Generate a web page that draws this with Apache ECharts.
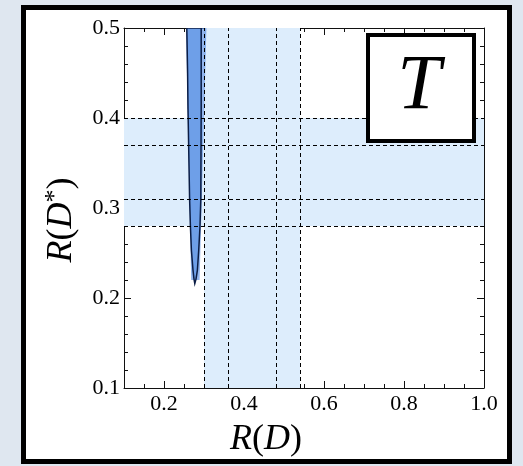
<!DOCTYPE html>
<html>
<head>
<meta charset="utf-8">
<script src="https://cdn.jsdelivr.net/npm/echarts@6/dist/echarts.min.js"></script>
<style>
html,body{margin:0;padding:0;width:523px;height:466px;overflow:hidden;background:#dfe7f0;}
#frame{position:absolute;left:21px;top:5px;width:491px;height:459px;box-sizing:border-box;border:5px solid #000;background:#fff;}
#chart{position:absolute;left:0;top:0;width:523px;height:466px;}
</style>
</head>
<body>
<div id="frame"></div>
<div id="chart"></div>
<script>
// Axis ranges and ticks
const xRange = [0.1, 1.0];
const yRange = [0.1, 0.5];
const xMajorTicks = [0.2, 0.4, 0.6, 0.8, 1.0];
const yMajorTicks = [0.1, 0.2, 0.3, 0.4, 0.5];

// Experimental bands: R(D) and R(D*)
const bandRD = [0.30, 0.54];
const bandRDs = [0.28, 0.40];
const linesRD = [0.30, 0.36, 0.48, 0.54];
const linesRDs = [0.28, 0.31, 0.37, 0.40];

// Allowed region (T operator)
const outerRegion = [[0.255, 0.5], [0.306, 0.5], [0.289, 0.22], [0.268, 0.22]];
const innerLeft = [[0.257, 0.5], [0.259, 0.45], [0.260, 0.41], [0.262, 0.36], [0.264, 0.31], [0.266, 0.28], [0.2685, 0.253], [0.2725, 0.231], [0.275, 0.221], [0.277, 0.216]];
const innerRight = [[0.293, 0.5], [0.293, 0.45], [0.293, 0.41], [0.2925, 0.36], [0.292, 0.31], [0.290, 0.28], [0.2868, 0.253], [0.2835, 0.231], [0.280, 0.221], [0.277, 0.216]];

const innerRegion = innerLeft.concat(innerRight.slice().reverse());

const chart = echarts.init(document.getElementById('chart'), null, {renderer: 'canvas'});

const serif = "'Liberation Serif', 'Times New Roman', serif";
const axisColor = '#111';

function baseX(pos, showLabel) {
  return {
    type: 'value', position: pos, min: xRange[0], max: xRange[1],
    axisLine: {show: true, onZero: false, lineStyle: {color: axisColor, width: 1}},
    axisTick: {show: true, inside: true, length: 7, customValues: xMajorTicks, lineStyle: {color: axisColor}},
    axisLabel: {show: showLabel, customValues: xMajorTicks, formatter: v => v.toFixed(1), fontFamily: serif, fontSize: 22, color: '#000', margin: 5},
    splitLine: {show: false}
  };
}
function minorX(pos) {
  return {
    type: 'value', position: pos, min: 0.1, max: 1.0, interval: 0.05,
    axisLine: {show: false, onZero: false},
    axisTick: {show: true, inside: true, length: 4, lineStyle: {color: axisColor}},
    axisLabel: {show: false}, splitLine: {show: false}
  };
}
function baseY(pos, showLabel) {
  return {
    type: 'value', position: pos, min: yRange[0], max: yRange[1], interval: 0.1,
    axisLine: {show: true, onZero: false, lineStyle: {color: axisColor, width: 1}},
    axisTick: {show: true, inside: true, length: 7, lineStyle: {color: axisColor}},
    minorTick: {show: true, splitNumber: 5, length: 4, lineStyle: {color: axisColor}},
    axisLabel: {show: showLabel, formatter: v => v.toFixed(1), fontFamily: serif, fontSize: 22, color: '#000', margin: 4},
    splitLine: {show: false}, minorSplitLine: {show: false}
  };
}

function polyRender(points, fill, stroke, lw) {
  return function (params, api) {
    if (params.dataIndex !== 0) return;
    const pts = points.map(p => api.coord(p));
    return {
      type: 'polygon',
      shape: {points: pts},
      style: {fill: fill, stroke: stroke, lineWidth: lw}
    };
  };
}

const bandColor = '#ddedfc';

const option = {
  animation: false,
  grid: {left: 124, top: 28, right: 39, bottom: 78, containLabel: false},
  xAxis: [baseX('bottom', true), minorX('bottom'), baseX('top', false), minorX('top')],
  yAxis: [baseY('left', true), baseY('right', false)],
  series: [
    {
      type: 'line', data: [], xAxisIndex: 0, yAxisIndex: 0, silent: true, z: 1,
      markArea: {
        silent: true,
        itemStyle: {color: bandColor},
        data: [
          [{xAxis: bandRD[0], yAxis: yRange[0]}, {xAxis: bandRD[1], yAxis: yRange[1]}],
          [{xAxis: xRange[0], yAxis: bandRDs[0]}, {xAxis: xRange[1], yAxis: bandRDs[1]}]
        ]
      },
      markLine: {
        silent: true, symbol: ['none', 'none'],
        label: {show: false},
        lineStyle: {color: '#000', width: 1, type: [4, 3]},
        data: linesRD.map(v => ({xAxis: v})).concat(linesRDs.map(v => ({yAxis: v})))
      }
    },
    {
      type: 'custom', xAxisIndex: 0, yAxisIndex: 0, z: 3, silent: true,
      data: outerRegion,
      renderItem: polyRender(outerRegion, 'rgba(100,150,230,0.7)', null, 0),
      clip: true
    },
    {
      type: 'custom', xAxisIndex: 0, yAxisIndex: 0, z: 4, silent: true,
      data: innerRegion,
      renderItem: polyRender(innerRegion, '#6e9fe8', '#0b1d45', 1.5),
      clip: true
    }
  ],
  graphic: [
    {
      type: 'rect', left: 366, top: 33, z: 100,
      shape: {width: 106, height: 106},
      style: {fill: '#fff', stroke: '#000', lineWidth: 4}
    },
    {
      type: 'text', z: 101, x: 419, y: 87,
      style: {text: 'T', font: "italic 78px 'Liberation Serif', serif", fill: '#000', align: 'center', verticalAlign: 'middle'}
    },
    {
      type: 'text', z: 101, x: 266, y: 440,
      style: {
        text: '{i|R}{n|(}{i|D}{n|)}', align: 'center', verticalAlign: 'middle',
        rich: {
          i: {fontFamily: serif, fontStyle: 'italic', fontSize: 36, color: '#000'},
          n: {fontFamily: serif, fontSize: 36, color: '#000'}
        }
      }
    },
    {
      type: 'text', z: 101, x: 62, y: 220, rotation: Math.PI / 2,
      style: {
        text: '{i|R}{n|(}{i|D}{s|*}{n|)}', align: 'center', verticalAlign: 'middle',
        rich: {
          i: {fontFamily: serif, fontStyle: 'italic', fontSize: 36, color: '#000'},
          n: {fontFamily: serif, fontSize: 36, color: '#000'},
          s: {fontFamily: serif, fontSize: 26, color: '#000', padding: [0, 0, 14, 0]}
        }
      }
    }
  ]
};
chart.setOption(option);
</script>
</body>
</html>
